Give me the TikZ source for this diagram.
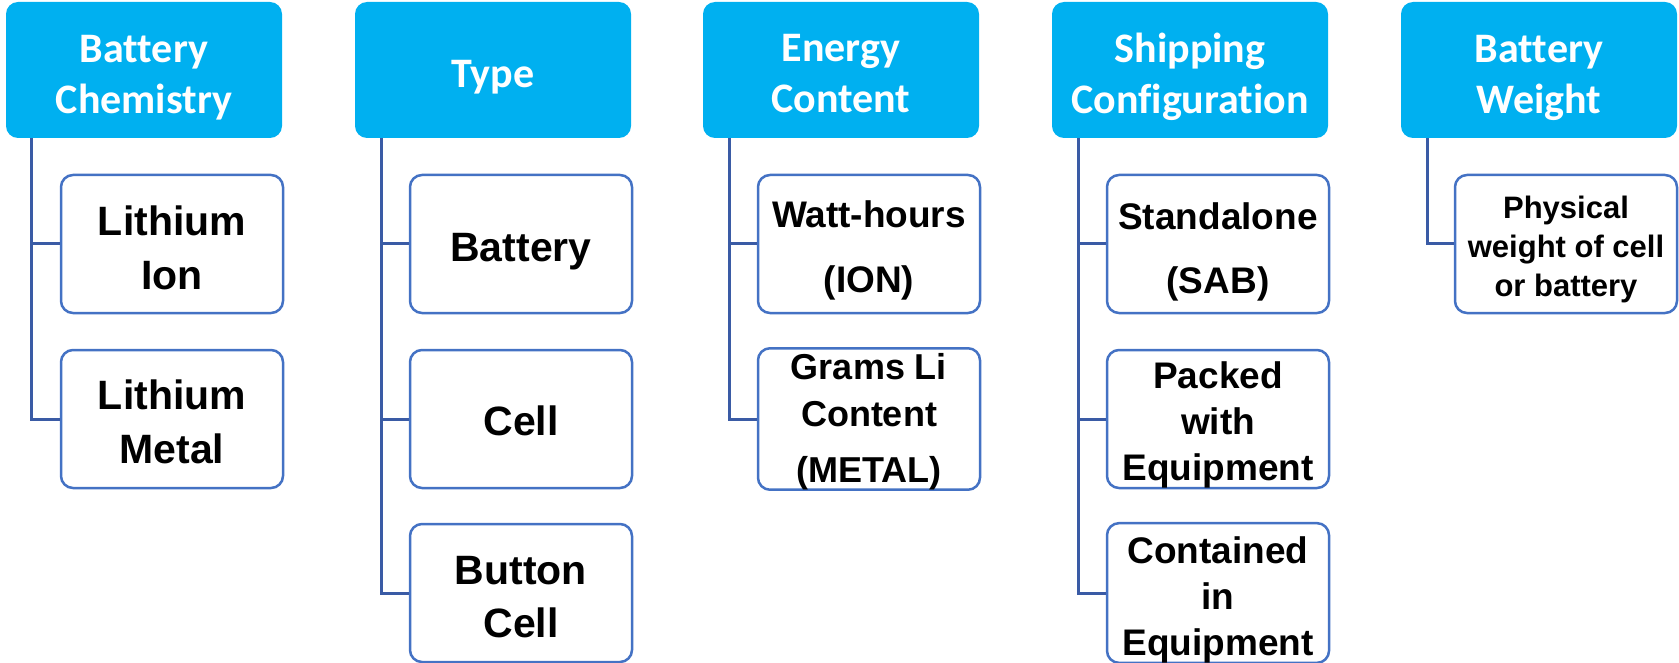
\documentclass[tikz,border=0pt]{standalone}
\usepackage{fontspec}
\setmainfont{Liberation Sans}
\newfontfamily\hdfont[Ligatures={NoCommon}]{Carlito}
\definecolor{hdblue}{HTML}{00B0F0}
\definecolor{boxblue}{HTML}{4472C4}
\definecolor{linkblue}{HTML}{3A5BA5}
\newcommand{\fsz}[2]{\fontsize{#1}{#2}\selectfont}
\newcommand{\st}[1]{\rule{0pt}{#1pt}}
\begin{document}
\begin{tikzpicture}[x=1pt,y=-1pt,
 header/.style={fill=hdblue, rounded corners=12pt, minimum width=276pt, minimum height=136pt, inner sep=0pt, text=white, align=center, font=\hdfont\bfseries\fsz{42}{51}},
 child/.style={draw=boxblue, line width=2.5pt, fill=white, rounded corners=12pt, minimum width=222pt, minimum height=138pt, inner sep=0pt, align=center, text=black},
 link/.style={draw=linkblue, line width=3pt}]
\useasboundingbox (0,0) rectangle (1679,663);
% headers
\node[header] (h1) at (144,70) {\st{42}Battery\\Chemistry};
\node[header] (h2) at (493,70) {\st{42}Type};
\node[header] (h3) at (841,70) {\st{35}Energy\\Content};
\node[header] (h4) at (1190,70) {\st{43}Shipping\\Configuration};
\node[header] (h5) at (1539,70) {\st{43}Battery\\Weight};
% spine points
\coordinate (s1) at ([xshift=26pt]h1.south west);
\coordinate (s2) at ([xshift=27pt]h2.south west);
\coordinate (s3) at ([xshift=27pt]h3.south west);
\coordinate (s4) at ([xshift=27pt]h4.south west);
\coordinate (s5) at ([xshift=27pt]h5.south west);
% children
\node[child, font=\bfseries\fsz{41}{54}] (c11) at (172,244) {\st{38}Lithium\\Ion};
\node[child, font=\bfseries\fsz{41}{54}] (c12) at (172,419) {\st{36}Lithium\\Metal};
\node[child, font=\bfseries\fsz{41}{53}] (c21) at (521,244) {\st{44}Battery};
\node[child, font=\bfseries\fsz{41}{53}] (c22) at (521,419) {\st{34}Cell};
\node[child, font=\bfseries\fsz{41}{53}] (c23) at (521,593) {\st{37}Button\\Cell};
\node[child, font=\bfseries\fsz{37}{65}] (c31) at (869,244) {\st{40}Watt-hours\\(ION)};
\node[child, font=\bfseries\fsz{36}{47}] (c32) at (869,419) {\st{31}Grams Li\\Content\\[9pt](METAL)};
\node[child, font=\bfseries\fsz{37}{64}] (c41) at (1218,244) {\st{43}Standalone\\(SAB)};
\node[child, font=\bfseries\fsz{37}{46}] (c42) at (1218,419) {\st{38}Packed\\with\\Equipment};
\node[child, font=\bfseries\fsz{37}{46}] (c43) at (1218,593) {\st{40}Contained\\in\\Equipment};
\node[child, font=\bfseries\fsz{31}{39}] (c51) at (1566,244) {\st{33}Physical\\weight of cell\\or battery};
% connectors
\draw[link] (s1) |- (c11.west);
\draw[link] (s1) |- (c12.west);
\draw[link] (s2) |- (c21.west);
\draw[link] (s2) |- (c22.west);
\draw[link] (s2) |- (c23.west);
\draw[link] (s3) |- (c31.west);
\draw[link] (s3) |- (c32.west);
\draw[link] (s4) |- (c41.west);
\draw[link] (s4) |- (c42.west);
\draw[link] (s4) |- (c43.west);
\draw[link] (s5) |- (c51.west);
\end{tikzpicture}
\end{document}
